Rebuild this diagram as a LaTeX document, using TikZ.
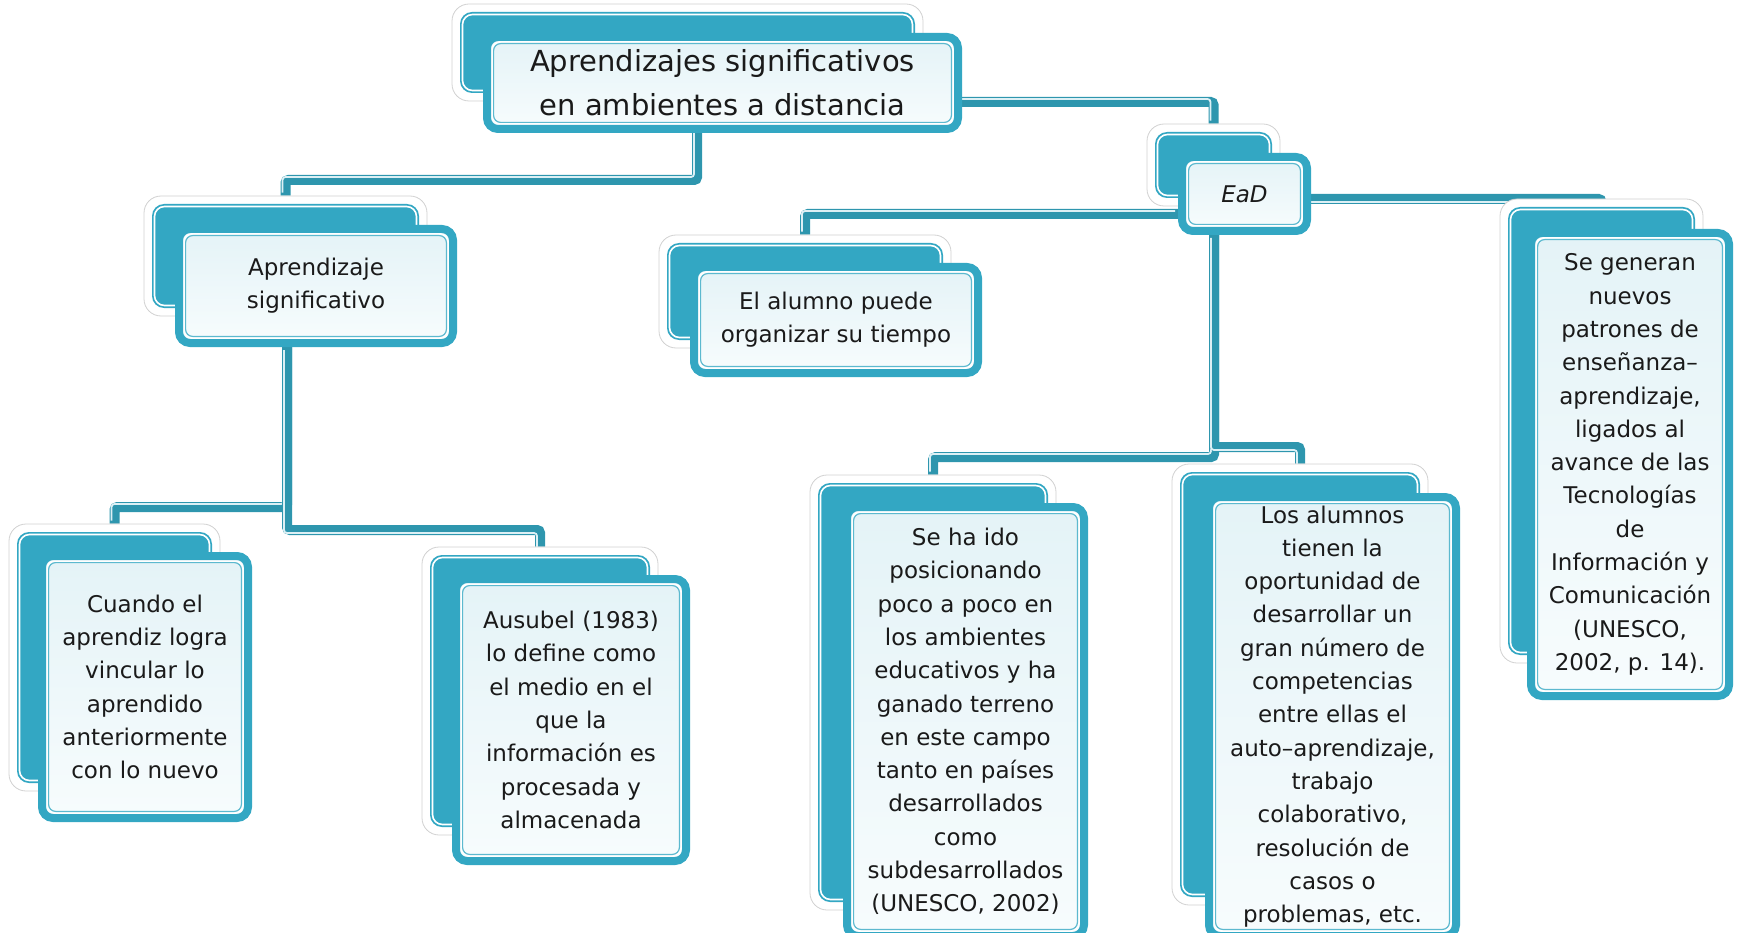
\documentclass[tikz,border=0pt]{standalone}
\usepackage{fontspec}
\setmainfont{DejaVu Sans}
\definecolor{boxteal}{HTML}{33A7C3}
\definecolor{connteal}{HTML}{2E96AE}
\definecolor{frontTop}{HTML}{E4F3F7}
\definecolor{frontBot}{HTML}{F7FCFD}
\definecolor{stripecol}{HTML}{DDF0F5}
\definecolor{textcol}{HTML}{1A1A1A}
\pgfdeclarelayer{background}
\pgfsetlayers{background,main}
\tikzset{
  frontbox/.style={draw=boxteal, line width=8pt, rounded corners=11pt,
    top color=frontTop, bottom color=frontBot, inner sep=0pt, align=center,
    text=textcol, font=\fontsize{23}{33.3}\selectfont,
    path picture={
      \draw[white, line width=2pt, rounded corners=8pt]
        ([shift={(5pt,-5pt)}]path picture bounding box.north west) rectangle
        ([shift={(-5pt,5pt)}]path picture bounding box.south east);
      \draw[boxteal!80, line width=1.2pt, rounded corners=7pt]
        ([shift={(6.6pt,-6.6pt)}]path picture bounding box.north west) rectangle
        ([shift={(-6.6pt,6.6pt)}]path picture bounding box.south east);
    }},
  titlebox/.style={frontbox, font=\fontsize{29}{44}\selectfont},
  backbox/.style={draw=black!18, line width=0.8pt, fill=white, rounded corners=17pt, inner sep=0pt,
    path picture={
      \fill[boxteal, rounded corners=12pt]
        ([shift={(8pt,-8pt)}]path picture bounding box.north west) rectangle
        ([shift={(-8pt,8pt)}]path picture bounding box.south east);
      \draw[white, line width=1.6pt, rounded corners=10pt]
        ([shift={(10.5pt,-10.5pt)}]path picture bounding box.north west) rectangle
        ([shift={(-10.5pt,10.5pt)}]path picture bounding box.south east);
    }},
  conn/.style={draw=connteal, line width=10pt, rounded corners=3pt},
  stripe/.style={draw=stripecol, line width=1.8pt, rounded corners=3pt}
}
\newcommand{\connline}[2]{%
  \draw[conn] #2;
  \draw[stripe, transform canvas={shift={#1}}] #2;}
\begin{document}
\begin{tikzpicture}[x=1pt,y=-1pt]
\useasboundingbox (0,0) rectangle (1742,933);
\clip (0,0) rectangle (1742,933);

% back boxes
\node[backbox, minimum width=471pt, minimum height=97pt] (titleB) at (687.5,52.5) {};
\node[backbox, minimum width=283pt, minimum height=120pt] (aprB) at (285.5,256) {};
\node[backbox, minimum width=133pt, minimum height=82pt] (eadB) at (1213.5,165) {};
\node[backbox, minimum width=292pt, minimum height=113pt] (aluB) at (805,291.5) {};
\node[backbox, minimum width=203pt, minimum height=464pt] (genB) at (1601.5,431) {};
\node[backbox, minimum width=211pt, minimum height=267pt] (cuaB) at (114.5,657.5) {};
\node[backbox, minimum width=236pt, minimum height=288pt] (ausB) at (540,691) {};
\node[backbox, minimum width=246pt, minimum height=435pt] (posB) at (933,692.5) {};
\node[backbox, minimum width=256pt, minimum height=441pt] (losB) at (1300,684.5) {};

% front boxes
\node[titlebox, minimum width=471pt, minimum height=92pt] (title) at (722.5,83)
  {Aprendizajes significativos\\en ambientes a distancia};
\node[frontbox, minimum width=274pt, minimum height=114pt] (apr) at (316,286)
  {Aprendizaje\\significativo};
\node[frontbox, minimum width=125pt, minimum height=74pt] (ead) at (1244.5,194)
  {\itshape EaD};
\node[frontbox, minimum width=284pt, minimum height=106pt] (alu) at (836,320)
  {El alumno puede\\organizar su tiempo};
\node[frontbox, minimum width=198pt, minimum height=463pt] (gen) at (1630,464.5)
  {Se generan\\nuevos\\patrones de\\enseñanza–\\aprendizaje,\\ligados al\\avance de las\\Tecnologías\\de\\Información y\\Comunicación\\(UNESCO,\\2002, p. 14).};
\node[frontbox, minimum width=206pt, minimum height=262pt] (cua) at (145,687)
  {Cuando el\\aprendiz logra\\vincular lo\\aprendido\\anteriormente\\con lo nuevo};
\node[frontbox, minimum width=230pt, minimum height=282pt] (aus) at (571,720)
  {Ausubel (1983)\\lo define como\\el medio en el\\que la\\información es\\procesada y\\almacenada};
\node[frontbox, minimum width=237pt, minimum height=429pt] (pos) at (965.5,721.5)
  {Se ha ido\\posicionando\\poco a poco en\\los ambientes\\educativos y ha\\ganado terreno\\en este campo\\tanto en países\\desarrollados\\como\\subdesarrollados\\(UNESCO, 2002)};
\node[frontbox, minimum width=247pt, minimum height=439pt] (los) at (1332.5,716.5)
  {Los alumnos\\tienen la\\oportunidad de\\desarrollar un\\gran número de\\competencias\\entre ellas el\\auto–aprendizaje,\\trabajo\\colaborativo,\\resolución de\\casos o\\problemas, etc.};

% connectors behind the boxes
\begin{pgfonlayer}{background}
\connline{(-3pt,3pt)}{([xshift=-25.5pt]title.south) -- ++(0,47) -| (aprB.north)}
\connline{(-3pt,3pt)}{([yshift=-19pt]title.east) -| (eadB.north)}
\connline{(-3pt,3pt)}{([yshift=-20pt]ead.west) -| (aluB.north)}
\connline{(-3pt,-3pt)}{([yshift=-5pt]ead.east) -| ([yshift=-8pt]genB.north)}
\connline{(-3pt,3pt)}{([xshift=-30.5pt]ead.south) -- ++(0,222) -| (posB.north)}
\connline{(-3pt,-3pt)}{([xshift=-30.5pt]ead.south) -- ++(0,212) -| (losB.north)}
\connline{(-3pt,3pt)}{([xshift=-29pt]apr.south) -- ++(0,160) -| (cuaB.north)}
\connline{(-3pt,-3pt)}{([xshift=-29pt]apr.south) -- ++(0,183) -| (ausB.north)}
\end{pgfonlayer}
\end{tikzpicture}
\end{document}
